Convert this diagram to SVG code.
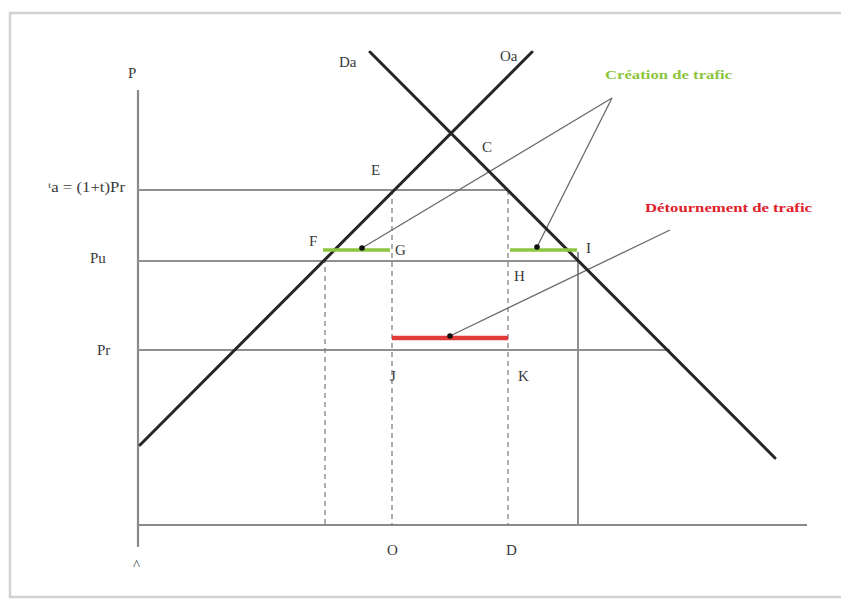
<svg xmlns="http://www.w3.org/2000/svg" width="841" height="599" viewBox="0 0 841 599">
<style>
.lbl{font-family:"Liberation Serif","Times New Roman",serif;font-size:15px;fill:#3a3a3a}
.axis{stroke:#8a8a8a;stroke-width:2.2;fill:none}
.grid{stroke:#8f8f8f;stroke-width:2;fill:none}
.curve{stroke:#262626;stroke-width:3;fill:none;stroke-linecap:round}
.dash{stroke:#7a7a7a;stroke-width:1.2;stroke-dasharray:5 4;fill:none}
.ptr{stroke:#6a6a6a;stroke-width:1.3;fill:none}
.dot{fill:#111}
</style>
<rect x="0" y="0" width="841" height="599" fill="#ffffff"/>
<rect x="10" y="13" width="840" height="584" fill="#ffffff" stroke="#d2d2d2" stroke-width="2.5"/>

<g id="axes">
  <line class="axis" x1="138" y1="90" x2="138" y2="547"/>
  <line class="axis" x1="138" y1="525" x2="807" y2="525"/>
</g>

<g id="price-lines">
  <line class="grid" x1="138" y1="190" x2="507" y2="190"/>
  <line class="grid" x1="138" y1="261" x2="578" y2="261"/>
  <line class="grid" x1="138" y1="350" x2="670" y2="350"/>
</g>

<g id="connectors">
  <line class="dash" x1="325" y1="258" x2="325" y2="525"/>
  <line class="dash" x1="392" y1="190" x2="392" y2="525"/>
  <line class="dash" x1="508" y1="190" x2="508" y2="525"/>
  <line class="grid" x1="578" y1="252" x2="578" y2="525" stroke-width="1.8"/>
  <line class="ptr" x1="612" y1="98" x2="362" y2="248"/>
  <line class="ptr" x1="612" y1="98" x2="537" y2="247"/>
  <line class="ptr" x1="670" y1="230" x2="450" y2="336"/>
</g>

<g id="supply-Oa">
  <line class="curve" x1="140" y1="445" x2="532" y2="52"/>
</g>
<g id="demand-Da">
  <line class="curve" x1="370" y1="52" x2="775" y2="458"/>
</g>

<g id="creation-trafic">
  <line x1="323" y1="250" x2="390" y2="250" stroke="#8cc63f" stroke-width="3.5"/>
  <line x1="510" y1="250" x2="577" y2="250" stroke="#8cc63f" stroke-width="3.5"/>
  <circle class="dot" cx="362" cy="248" r="2.8"/>
  <circle class="dot" cx="537" cy="247" r="2.8"/>
  <text x="605" y="79" font-family="Liberation Serif, serif" font-weight="bold" font-size="13" fill="#8cc63f" textLength="127" lengthAdjust="spacingAndGlyphs">Création de trafic</text>
</g>

<g id="detournement-trafic">
  <line x1="392" y1="338" x2="508" y2="338" stroke="#e23b3b" stroke-width="4.5"/>
  <circle class="dot" cx="450" cy="336" r="2.8"/>
  <text x="645" y="212" font-family="Liberation Serif, serif" font-weight="bold" font-size="13.5" fill="#e0202a" textLength="167" lengthAdjust="spacingAndGlyphs">Détournement de trafic</text>
</g>

<g id="labels">
  <text class="lbl" x="128" y="78">P</text>
  <text class="lbl" x="339" y="67">Da</text>
  <text class="lbl" x="500" y="61">Oa</text>
  <text class="lbl" x="482" y="152">C</text>
  <text class="lbl" x="371" y="175">E</text>
  <text class="lbl" x="48" y="192" font-size="12.5" textLength="77" lengthAdjust="spacingAndGlyphs">ᵗa = (1+t)Pr</text>
  <text class="lbl" x="90" y="263">Pu</text>
  <text class="lbl" x="97" y="355">Pr</text>
  <text class="lbl" x="309" y="246">F</text>
  <text class="lbl" x="395" y="255">G</text>
  <text class="lbl" x="514" y="281">H</text>
  <text class="lbl" x="586" y="253">I</text>
  <text class="lbl" x="390" y="381">J</text>
  <text class="lbl" x="518" y="381">K</text>
  <text class="lbl" x="387" y="555">O</text>
  <text class="lbl" x="506" y="555">D</text>
  <text class="lbl" x="133" y="570" font-size="11">^</text>
</g>
</svg>
